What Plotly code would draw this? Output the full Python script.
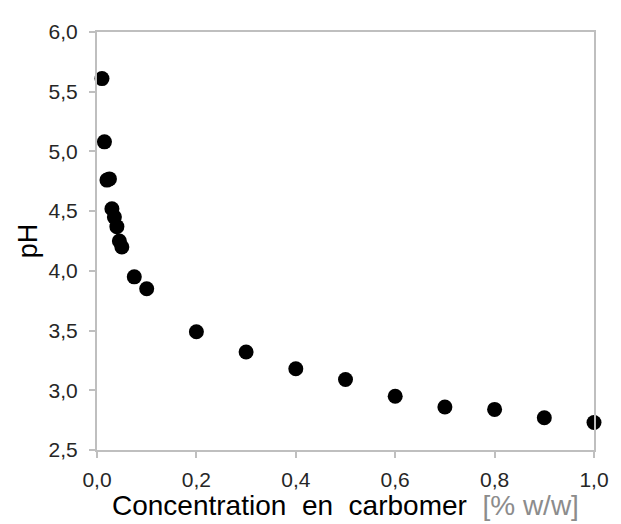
import plotly.graph_objects as go

concentration = [0.01, 0.015, 0.02, 0.025, 0.03, 0.035, 0.04, 0.045, 0.05, 0.075, 0.1,
                 0.2, 0.3, 0.4, 0.5, 0.6, 0.7, 0.8, 0.9, 1.0]
ph = [5.61, 5.08, 4.76, 4.77, 4.52, 4.45, 4.37, 4.25, 4.20, 3.95, 3.85,
      3.49, 3.32, 3.18, 3.09, 2.95, 2.86, 2.84, 2.77, 2.73]

x_ticks = [0.0, 0.2, 0.4, 0.6, 0.8, 1.0]
y_ticks = [2.5, 3.0, 3.5, 4.0, 4.5, 5.0, 5.5, 6.0]

x_title = "Concentration\u00a0 en\u00a0 carbomer\u00a0 <span style='color:#8C8C8C'>[% w/w]</span>"

fig = go.Figure()
fig.add_trace(go.Scatter(
    x=concentration, y=ph, mode="markers",
    marker=dict(color="black", size=15, line=dict(width=0)),
    cliponaxis=False, showlegend=False,
))

axis_common = dict(
    showline=True, linecolor="#BFBFBF", linewidth=2, mirror=True,
    showgrid=False, zeroline=False,
    ticks="outside", ticklen=6, tickwidth=1.5, tickcolor="#BFBFBF",
    tickfont=dict(family="Liberation Sans, Arial, sans-serif", size=21, color="#262626"),
    tickformat=".1f",
)

# the page body adds an 8px offset, so the figure is 8px smaller with shifted margins
fig.update_layout(
    width=613, height=516,
    margin=dict(l=89, r=16, t=17, b=74),
    paper_bgcolor="white", plot_bgcolor="white",
    separators=", ",
    font=dict(family="Liberation Sans, Arial, sans-serif", color="black"),
    xaxis=dict(range=[0, 1], tickvals=x_ticks, ticklabelstandoff=4, **axis_common),
    yaxis=dict(range=[2.5, 6.0], tickvals=y_ticks, ticklabelstandoff=7,
               title=dict(text="pH", font=dict(size=27, color="black"), standoff=3),
               **axis_common),
    annotations=[dict(
        text=x_title, xref="paper", yref="paper", x=0.5, y=0,
        xanchor="center", yanchor="middle", yshift=-55, showarrow=False,
        font=dict(size=28, color="black"),
    )],
)

fig.write_html("out.html")
